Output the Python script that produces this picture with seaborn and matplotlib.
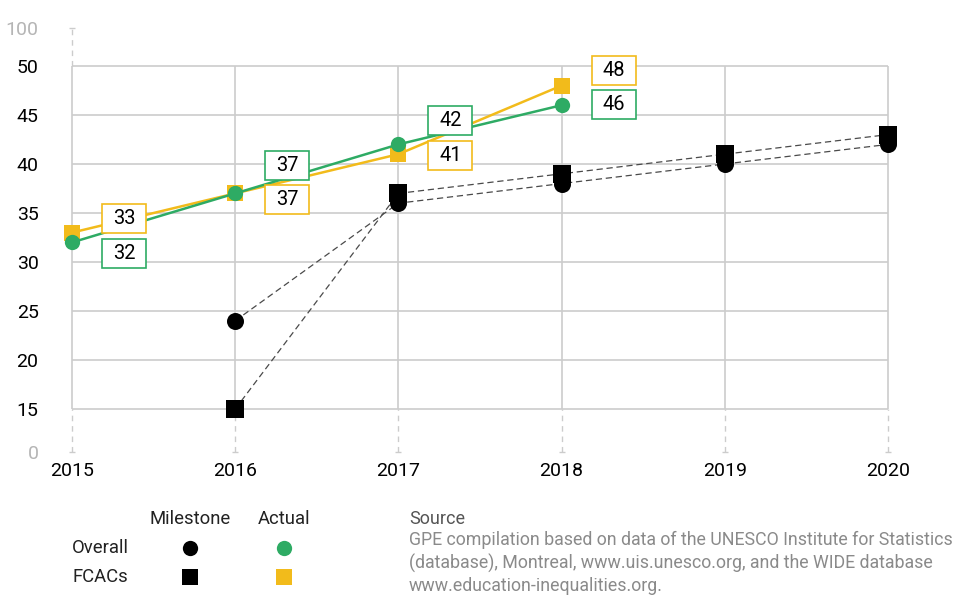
import numpy as np
import pandas as pd
import matplotlib
matplotlib.use('Agg')
import matplotlib.pyplot as plt
import seaborn as sns
from matplotlib.patches import Rectangle
from matplotlib.lines import Line2D

# Data
years_actual = [2015, 2016, 2017, 2018]
overall_actual = [32, 37, 42, 46]
fcac_actual = [33, 37, 41, 48]
years_milestone = [2016, 2017, 2018, 2019, 2020]
overall_milestone = [24, 36, 38, 40, 42]
fcac_milestone = [15, 37, 39, 41, 43]

year_ticks = [2015, 2016, 2017, 2018, 2019, 2020]
grid_values = [15, 20, 25, 30, 35, 40, 45, 50]

# label box vertical offsets (layout only)
overall_label_dy = [-1.1, 2.8, 2.4, 0.1]
fcac_label_dy = [1.4, -0.6, -0.1, 1.5]

GREEN = '#2eab64'
YELLOW = '#f2bb1b'
GRID = '#cccccc'
DASH = '#4a4a4a'

sns.set_theme(style='white')
plt.rcParams['font.family'] = ['Roboto', 'DejaVu Sans']

W, H = 973, 595
fig = plt.figure(figsize=(W / 100, H / 100), dpi=100)

# axes geometry: 2015 at px 72, 163.2 px per year; 50 at px 66, 9.8 px per unit
px_year = 163.2
px_unit = 9.8
ax = fig.add_axes([40 / W, 1 - 452 / H, 900 / W, 424 / H])
x_left = 2015 - 32 / px_year
x_right = 2015 + (940 - 72) / px_year
y_bot = 15 - 43 / px_unit
y_top = 50 + 38 / px_unit
for s in ax.spines.values():
    s.set_visible(False)

# grid
ax.hlines(grid_values, 2015, 2020, color=GRID, lw=1.2, zorder=0)
ax.vlines(year_ticks, 15, 50, color=GRID, lw=1.2, zorder=0)
ax.vlines(year_ticks, y_bot, 15, color=GRID, lw=1.0, linestyles=(0, (4, 3.5)), zorder=0)
ax.vlines([2015], 50, y_top, color=GRID, lw=1.0, linestyles=(0, (4, 3.5)), zorder=0)
ax.plot(year_ticks, [y_bot] * len(year_ticks), ls='none', marker='_', ms=5, mew=1, color=GRID, clip_on=False)
ax.plot([2015], [y_top], ls='none', marker='_', ms=5, mew=1, color=GRID, clip_on=False)

# milestones: dashed lines + black markers
ms_df = pd.DataFrame({'year': years_milestone, 'overall': overall_milestone, 'fcac': fcac_milestone})
for col in ['overall', 'fcac']:
    sns.lineplot(data=ms_df, x='year', y=col, ax=ax, color=DASH, lw=0.9,
                 linestyle=(0, (5, 3)), zorder=2)
sns.scatterplot(data=ms_df, x='year', y='overall', ax=ax, color='black', marker='o',
                s=150, linewidth=0, zorder=3)
sns.scatterplot(data=ms_df, x='year', y='fcac', ax=ax, color='black', marker='s',
                s=150, linewidth=0, zorder=3)

# actual: solid lines
act_df = pd.DataFrame({'year': years_actual, 'overall': overall_actual, 'fcac': fcac_actual})
sns.lineplot(data=act_df, x='year', y='fcac', ax=ax, color=YELLOW, lw=1.8,
             marker='s', markersize=11, markeredgewidth=0, zorder=4)
sns.lineplot(data=act_df, x='year', y='overall', ax=ax, color=GREEN, lw=1.8,
             marker='o', markersize=11, markeredgewidth=0, zorder=5)
for ln in ax.lines + ax.collections:
    ln.set_clip_on(False)

# value boxes
bw = 44 / px_year
bh = 29 / px_unit
dx = 52 / px_year
for vals, dys, col in [(overall_actual, overall_label_dy, GREEN), (fcac_actual, fcac_label_dy, YELLOW)]:
    for yr, v, dy in zip(years_actual, vals, dys):
        cx, cy = yr + dx, v + dy
        ax.add_patch(Rectangle((cx - bw / 2, cy - bh / 2), bw, bh, facecolor='white',
                               edgecolor=col, lw=1.2, zorder=6, clip_on=False))
        ax.text(cx, cy, str(v), ha='center', va='center', fontsize=14.5, color='black', zorder=7)

# ticks
ax.set_xticks(year_ticks)
ax.set_xticklabels([str(y) for y in year_ticks], fontsize=14, color='black')
ax.set_yticks([y_bot] + grid_values + [y_top])
ax.set_yticklabels(['0'] + [str(v) for v in grid_values] + ['100'], fontsize=14, color='black')
ax.get_yticklabels()[0].set_color('#b5b5b5')
ax.get_yticklabels()[-1].set_color('#b5b5b5')
ax.tick_params(axis='both', length=0)
ax.tick_params(axis='x', pad=7)
ax.tick_params(axis='y', pad=1)
ax.set_xlabel('')
ax.set_ylabel('')
ax.set_xlim(x_left, x_right)
ax.set_ylim(y_bot, y_top)


def fy(py):
    return 1 - py / H


# legend table
fig.text(190 / W, fy(519), 'Milestone', ha='center', va='center', fontsize=13.3, color='#222222')
fig.text(284 / W, fy(519), 'Actual', ha='center', va='center', fontsize=13.3, color='#222222')
fig.text(72 / W, fy(548), 'Overall', ha='left', va='center', fontsize=13.3, color='#222222')
fig.text(72 / W, fy(577), 'FCACs', ha='left', va='center', fontsize=13.3, color='#222222')
for (px, py, mk, col) in [(190, 548, 'o', 'black'), (284, 548, 'o', GREEN),
                          (190, 577, 's', 'black'), (284, 577, 's', YELLOW)]:
    fig.add_artist(Line2D([px / W], [fy(py)], marker=mk, ms=11, mew=0, color=col,
                          ls='none', transform=fig.transFigure))

# source
fig.text(409 / W, fy(519), 'Source', ha='left', va='center', fontsize=13, color='#555555')
src_lines = ['GPE compilation based on data of the UNESCO Institute for Statistics',
             '(database), Montreal, www.uis.unesco.org, and the WIDE database',
             'www.education-inequalities.org.']
for i, line in enumerate(src_lines):
    fig.text(409 / W, fy(540 + 23 * i), line, ha='left', va='center', fontsize=12.8, color='#8a8a8a')

fig.savefig('out.png', dpi=100)
